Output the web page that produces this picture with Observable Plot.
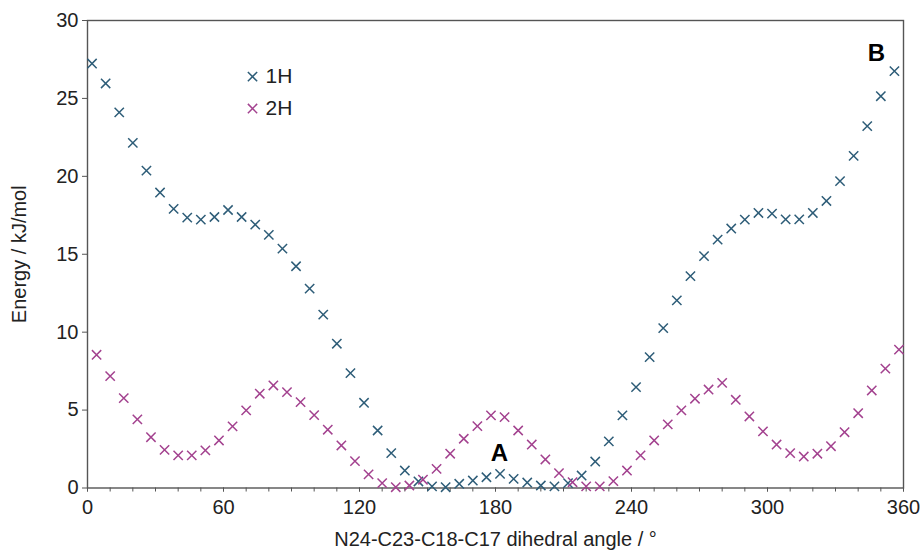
<!DOCTYPE html>
<html><head><meta charset="utf-8">
<script src="https://cdn.jsdelivr.net/npm/d3@7"></script>
<script src="https://cdn.jsdelivr.net/npm/@observablehq/plot@0.6"></script>
<style>body{margin:0;background:#fff;font-family:"Liberation Sans",Arial,sans-serif}</style>
</head><body><div id="chart"></div>
<script>
const angle1H = [2,8,14,20,26,32,38,44,50,56,62,68,74,80,86,92,98,104,110,116,122,128,134,140,146,152,158,164,170,176,182,188,194,200,206,212,218,224,230,236,242,248,254,260,266,272,278,284,290,296,302,308,314,320,326,332,338,344,350,356];
const energy1H = [27.24,25.96,24.1,22.15,20.37,18.96,17.91,17.35,17.22,17.39,17.84,17.39,16.9,16.24,15.36,14.23,12.79,11.13,9.26,7.37,5.47,3.69,2.24,1.12,0.42,0.1,0.05,0.27,0.48,0.69,0.91,0.59,0.35,0.16,0.1,0.31,0.8,1.7,2.99,4.66,6.47,8.4,10.26,12.04,13.6,14.88,15.94,16.65,17.22,17.65,17.61,17.24,17.24,17.65,18.42,19.69,21.31,23.22,25.14,26.75];
const angle2H = [4,10,16,22,28,34,40,46,52,58,64,70,76,82,88,94,100,106,112,118,124,130,136,142,148,154,160,166,172,178,184,190,196,202,208,214,220,226,232,238,244,250,256,262,268,274,280,286,292,298,304,310,316,322,328,334,340,346,352,358];
const energy2H = [8.55,7.18,5.77,4.4,3.26,2.45,2.09,2.09,2.41,3.05,3.95,4.98,6.05,6.58,6.15,5.51,4.68,3.74,2.73,1.72,0.87,0.31,0.05,0.16,0.53,1.23,2.2,3.16,3.97,4.66,4.55,3.69,2.79,1.83,0.95,0.37,0.1,0.1,0.44,1.12,2.09,3.05,4.08,4.98,5.73,6.32,6.75,5.66,4.59,3.63,2.79,2.24,2.02,2.2,2.68,3.58,4.8,6.26,7.66,8.88];
const seriesNames = ["1H", "2H"];
const seriesColors = ["#2e5d78", "#a3428f"];
const xTicks = [0, 60, 120, 180, 240, 300, 360];
const xMinorTicks = [0,10,20,30,40,50,60,70,80,90,100,110,120,130,140,150,160,170,180,190,200,210,220,230,240,250,260,270,280,290,300,310,320,330,340,350,360];
const yTicks = [0, 5, 10, 15, 20, 25, 30];
const annotations = [{label: "A", x: 181.7, y: 2.2}, {label: "B", x: 348, y: 27.9}];
const legendItems = [{name: "1H", x: 72.8, y: 26.4}, {name: "2H", x: 72.8, y: 24.35}];

const data = [
  ...angle1H.map((a, i) => ({angle: a, energy: energy1H[i], series: seriesNames[0]})),
  ...angle2H.map((a, i) => ({angle: a, energy: energy2H[i], series: seriesNames[1]}))
];

const chart = Plot.plot({
  width: 923, height: 552,
  marginLeft: 87, marginRight: 20, marginTop: 20, marginBottom: 64.5,
  style: {fontFamily: '"Liberation Sans", Arial, sans-serif', fontSize: "20px", color: "#222", background: "#fff"},
  x: {domain: [0, 360]},
  y: {domain: [0, 30]},
  color: {domain: seriesNames, range: seriesColors},
  marks: [
    Plot.axisX({ticks: xMinorTicks, tickSize: 4, tickFormat: () => "", stroke: "#555", label: null}),
    Plot.axisX({ticks: xTicks, tickSize: 4, tickPadding: 8, stroke: "#555", fill: "#222",
      label: "N24-C23-C18-C17 dihedral angle / °", labelAnchor: "center", labelArrow: "none", labelOffset: 58}),
    Plot.axisY({ticks: yTicks, tickSize: 5, tickPadding: 4, stroke: "#555", fill: "#222",
      label: "Energy / kJ/mol", labelAnchor: "center", labelArrow: "none", labelOffset: 76}),
    Plot.frame({stroke: "#555", strokeWidth: 1.4}),
    Plot.dot(data, {x: "angle", y: "energy", stroke: "series", symbol: "times", r: 4.3, strokeWidth: 1.5}),
    Plot.dot(legendItems, {x: "x", y: "y", stroke: "name", symbol: "times", r: 4.3, strokeWidth: 1.5}),
    Plot.text(legendItems, {x: "x", y: "y", text: "name", dx: 13, textAnchor: "start", fontSize: 21, fill: "#222"}),
    Plot.text(annotations, {x: "x", y: "y", text: "label", fontWeight: "bold", fontSize: 24, fill: "#000"})
  ]
});
document.getElementById("chart").appendChild(chart);
</script>
</body></html>
